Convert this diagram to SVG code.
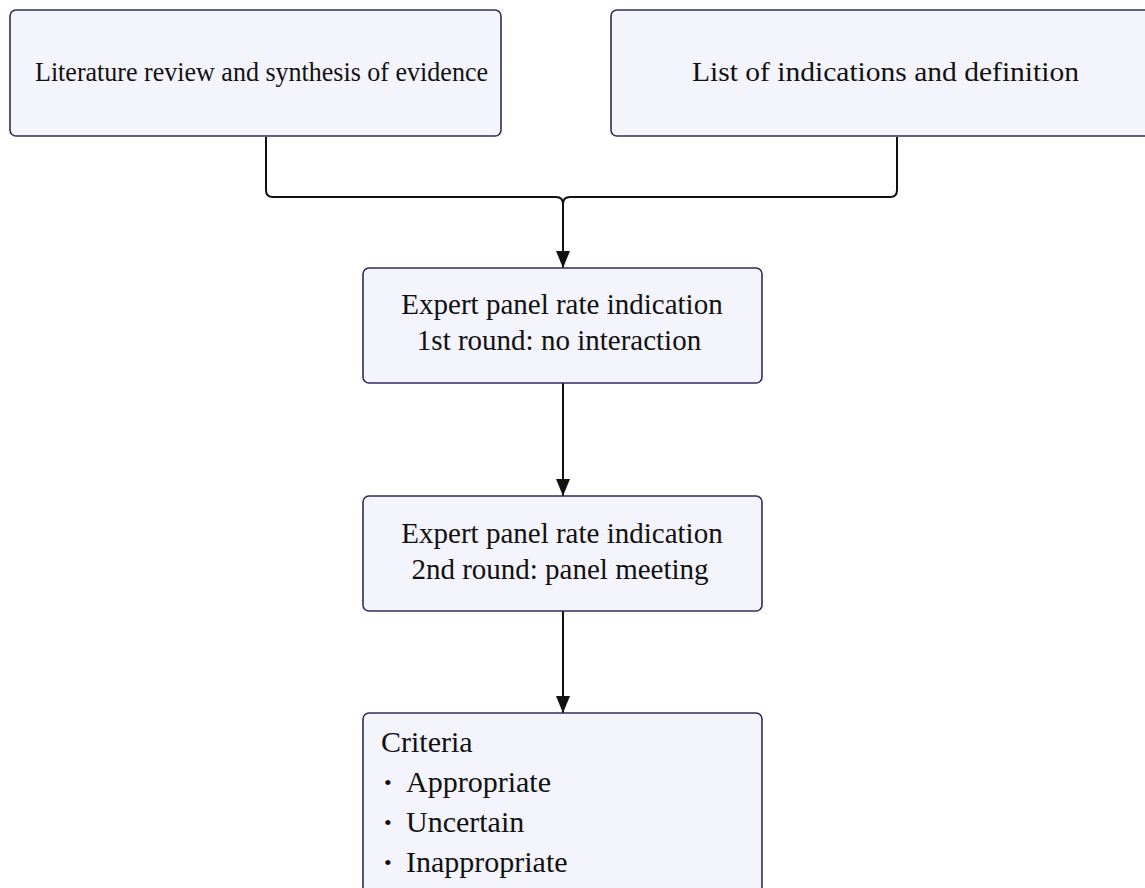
<svg xmlns="http://www.w3.org/2000/svg" width="1145" height="888" viewBox="0 0 1145 888">
  <style>
    .box { fill: #f4f4fc; stroke: #2f2c5c; stroke-width: 1.6; }
    .t { font-family: "Liberation Serif", "Times New Roman", serif; fill: #111; }
    .c { text-anchor: middle; }
    .edge { fill: none; stroke: #111; stroke-width: 2; }
  </style>
  <defs>
    <marker id="arr" viewBox="0 0 17 14" refX="17" refY="7" markerWidth="17" markerHeight="14" markerUnits="userSpaceOnUse" orient="auto">
      <path d="M0,0 L17,7 L0,14 Z" fill="#111"/>
    </marker>
  </defs>
  <rect width="1145" height="888" fill="#ffffff"/>

  <g id="connectors">
    <path class="edge" d="M266,137 V190 Q266,197 273,197 H556 Q563,197 563,204 V268" marker-end="url(#arr)"/>
    <path class="edge" d="M897,137 V190 Q897,197 890,197 H570 Q563,197 563,204"/>
    <path class="edge" d="M563,383 V496" marker-end="url(#arr)"/>
    <path class="edge" d="M563,611 V713" marker-end="url(#arr)"/>
  </g>

  <g id="node-literature">
    <rect class="box" x="10" y="10" width="491" height="126" rx="6"/>
    <text class="t" x="35" y="81" font-size="28" textLength="453" lengthAdjust="spacingAndGlyphs">Literature review and synthesis of evidence</text>
  </g>

  <g id="node-indications">
    <rect class="box" x="611" y="10" width="560" height="126" rx="6"/>
    <text class="t" x="692" y="81" font-size="28" textLength="387" lengthAdjust="spacingAndGlyphs">List of indications and definition</text>
  </g>

  <g id="node-round1">
    <rect class="box" x="363" y="268" width="399" height="115" rx="6"/>
    <text class="t c" x="562" y="314" font-size="29">Expert panel rate indication</text>
    <text class="t c" x="559" y="350" font-size="29">1st round: no interaction</text>
  </g>

  <g id="node-round2">
    <rect class="box" x="363" y="496" width="399" height="115" rx="6"/>
    <text class="t c" x="562" y="543" font-size="29">Expert panel rate indication</text>
    <text class="t c" x="560" y="579" font-size="29">2nd round: panel meeting</text>
  </g>

  <g id="node-criteria">
    <rect class="box" x="363" y="713" width="399" height="200" rx="6"/>
    <text class="t" x="381" y="752" font-size="30">Criteria</text>
    <text class="t" x="384" y="790" font-size="22">•</text>
    <text class="t" x="406" y="792" font-size="30">Appropriate</text>
    <text class="t" x="384" y="830" font-size="22">•</text>
    <text class="t" x="406" y="832" font-size="30">Uncertain</text>
    <text class="t" x="384" y="870" font-size="22">•</text>
    <text class="t" x="406" y="872" font-size="30">Inappropriate</text>
  </g>
</svg>
